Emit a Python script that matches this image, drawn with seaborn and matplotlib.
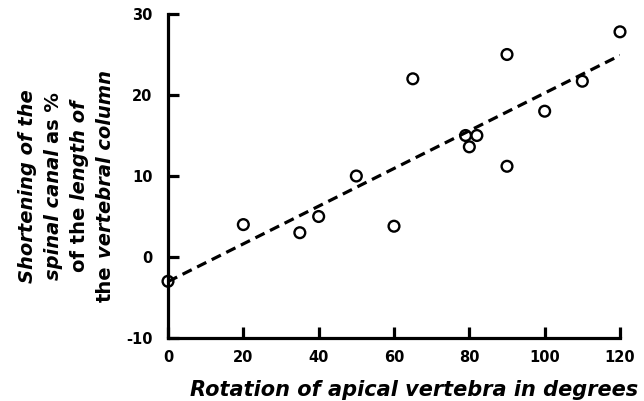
import numpy as np
import pandas as pd
import matplotlib
matplotlib.use("Agg")
import matplotlib.pyplot as plt
import seaborn as sns

# values
rotation = [0, 20, 35, 40, 50, 60, 65, 79, 80, 82, 90, 90, 100, 110, 120]
shortening = [-3, 4, 3, 5, 10, 3.8, 22, 15, 13.6, 15, 25, 11.2, 18, 21.7, 27.8]
x_ticks = [0, 20, 40, 60, 80, 100, 120]
y_ticks = [-10, 0, 10, 20, 30]
x_title = "Rotation of apical vertebra in degrees"
# y title pieces: (text, italic?)
y_title = [
    [("Shortening of the", True)],
    [("spinal canal", True), ("as %", False)],
    [("of the", False), ("length of", True)],
    [("the", False), ("vertebral column", True)],
]

df = pd.DataFrame({"rotation": rotation, "shortening": shortening})

sns.set_style("ticks", {"axes.edgecolor": "black", "text.color": "black",
                        "xtick.color": "black", "ytick.color": "black",
                        "axes.labelcolor": "black"})
plt.rcParams["font.family"] = ["DejaVu Sans"]
plt.rcParams["axes.unicode_minus"] = False

W, H = 644, 401
fig = plt.figure(figsize=(W / 100, H / 100), dpi=100)
ax = fig.add_axes([168 / W, 63 / H, (620 - 168) / W, (338 - 14) / H])

sns.regplot(data=df, x="rotation", y="shortening", ax=ax, ci=None, scatter=False,
            color="black", truncate=True,
            line_kws=dict(linewidth=2.3, linestyle=(0, (3.2, 1.9)), zorder=2))
sns.scatterplot(data=df, x="rotation", y="shortening", ax=ax, marker="o",
                s=60, facecolor="none", edgecolor="black", linewidth=1.7,
                zorder=3, clip_on=False)

ax.set_xlim(0, 120)
ax.set_ylim(-10, 30)
ax.set_xticks(x_ticks)
ax.set_yticks(y_ticks)
ax.set_xlabel("")
ax.set_ylabel("")
sns.despine(ax=ax)
for s in ["left", "bottom"]:
    ax.spines[s].set_linewidth(2.3)
    ax.spines[s].set_color("black")
    ax.spines[s].set_capstyle("projecting")
ax.tick_params(direction="in", length=8, width=2.3, labelsize=10.5,
               colors="black", labelcolor="black")
ax.tick_params(axis="y", pad=11)
ax.tick_params(axis="x", pad=9)
for lab in ax.get_xticklabels() + ax.get_yticklabels():
    lab.set_fontweight("bold")

fig.text(414 / W, 5 / H, x_title, ha="center", va="baseline", color="black",
         fontsize=15, fontweight="bold", fontstyle="italic")

# y title, mixed italic/upright, rotated
renderer = fig.canvas.get_renderer()
fsize = 14


def width_of(s, italic):
    t = fig.text(0, 0, s, fontsize=fsize, fontweight="bold",
                 fontstyle="italic" if italic else "normal")
    w = t.get_window_extent(renderer).width
    t.remove()
    return w


space = width_of("a a", True) - width_of("aa", True)
yc = 186
baselines = [33, 59, 85, 111]
for bx, pieces in zip(baselines, y_title):
    widths = [width_of(s, it) for s, it in pieces]
    total = sum(widths) + space * (len(pieces) - 1)
    ypos = (H - yc) - total / 2
    for (s, it), w in zip(pieces, widths):
        fig.text(bx / W, ypos / H, s, rotation=90, rotation_mode="anchor",
                 ha="left", va="baseline", fontsize=fsize, fontweight="bold",
                 color="black", fontstyle="italic" if it else "normal")
        ypos += w + space

fig.savefig("out.png", dpi=100)
